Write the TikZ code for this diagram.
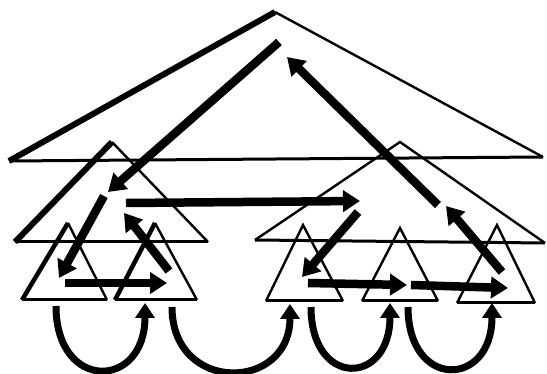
\documentclass[tikz,border=0pt]{standalone}
\usetikzlibrary{arrows.meta}
\begin{document}
\begin{tikzpicture}[x=1pt,y=-1pt,line join=miter,
  thickside/.style={line width=6pt},
  thinside/.style={line width=2.4pt},
  baseline/.style={line width=3pt},
  bigarrow/.style={line width=8.5pt,-{Triangle[length=17pt,width=21pt]}},
  loop/.style={line width=7pt,-{Triangle[length=15pt,width=19pt]}}]
\useasboundingbox (0,0) rectangle (547,374);
% ---- coordinates of triangle corners
\coordinate (TA) at (275,12);  \coordinate (TL) at (9,161);   \coordinate (TR) at (543,157);
\coordinate (LA) at (112,142); \coordinate (LL) at (15,242);  \coordinate (LR) at (208,242);
\coordinate (RA) at (400,142); \coordinate (RL) at (255,240); \coordinate (RR) at (545,243);
\coordinate (AA) at (68,223);  \coordinate (AL) at (22,300);  \coordinate (AR) at (107,300);
\coordinate (BA) at (155,223); \coordinate (BL) at (115,300); \coordinate (BR) at (197,300);
\coordinate (CA) at (303,225); \coordinate (CL) at (266,301); \coordinate (CR) at (343,301);
\coordinate (DA) at (400,228); \coordinate (DL) at (362,301); \coordinate (DR) at (438,301);
\coordinate (EA) at (497,225); \coordinate (EL) at (457,303); \coordinate (ER) at (535,303);
% ---- big triangle
\draw[thickside] (TL) -- (TA);
\draw[thinside] (TA) -- (TR);
\draw[baseline] (TL) -- (TR);
% ---- middle triangles
\draw[thickside] (LL) -- (LA);
\draw[thinside] (LA) -- (LR);
\draw[baseline] (LL) -- (LR);
\draw[thinside] (RL) -- (RA) -- (RR);
\draw[baseline] (RL) -- (RR);
% ---- small triangles
\draw[line width=4.5pt] (AL) -- (AA);
\draw[thinside] (AA) -- (AR);
\draw[baseline] (AL) -- (AR);
\draw[line width=4.5pt] (BL) -- (BA);
\draw[thinside] (BA) -- (BR);
\draw[baseline] (BL) -- (BR);
\draw[thinside] (CL) -- (CA) -- (CR);
\draw[baseline] (CL) -- (CR);
\draw[thinside] (DL) -- (DA) -- (DR);
\draw[baseline] (DL) -- (DR);
\draw[thinside] (EL) -- (EA) -- (ER);
\draw[baseline] (EL) -- (ER);
% ---- arrow end points
\coordinate (a1s) at (279,42);  \coordinate (a1e) at (108,192);
\coordinate (a2s) at (104,196); \coordinate (a2e) at (59,278);
\coordinate (a3s) at (65,283);  \coordinate (a3e) at (167,283);
\coordinate (a4s) at (169,271); \coordinate (a4e) at (124,213);
\coordinate (a5s) at (126,203); \coordinate (a5e) at (360,201);
\coordinate (a6s) at (358,212); \coordinate (a6e) at (302,277);
\coordinate (a7s) at (308,283); \coordinate (a7e) at (407,285);
\coordinate (a8s) at (411,285); \coordinate (a8e) at (508,288);
\coordinate (a9s) at (502,272); \coordinate (a9e) at (446,206);
\coordinate (a10s) at (438,205); \coordinate (a10e) at (287,57);
\draw[bigarrow] (a1s) -- (a1e);
\draw[bigarrow] (a2s) -- (a2e);
\draw[bigarrow] (a3s) -- (a3e);
\draw[bigarrow] (a4s) -- (a4e);
\draw[bigarrow] (a5s) -- (a5e);
\draw[bigarrow] (a6s) -- (a6e);
\draw[bigarrow] (a7s) -- (a7e);
\draw[bigarrow] (a8s) -- (a8e);
\draw[bigarrow] (a9s) -- (a9e);
\draw[bigarrow] (a10s) -- (a10e);
% ---- loops under the small triangles
\coordinate (u1s) at (56,306);  \coordinate (u1e) at (145,303);
\coordinate (u2s) at (172,307); \coordinate (u2e) at (290,304);
\coordinate (u3s) at (311,307); \coordinate (u3e) at (390,303);
\coordinate (u4s) at (408,307); \coordinate (u4e) at (492,303);
\draw[loop] (u1s) .. controls (56,392) and (145,390) .. (u1e);
\draw[loop] (u2s) .. controls (172,394) and (290,392) .. (u2e);
\draw[loop] (u3s) .. controls (311,388) and (390,386) .. (u3e);
\draw[loop] (u4s) .. controls (408,390) and (492,388) .. (u4e);
\end{tikzpicture}
\end{document}
